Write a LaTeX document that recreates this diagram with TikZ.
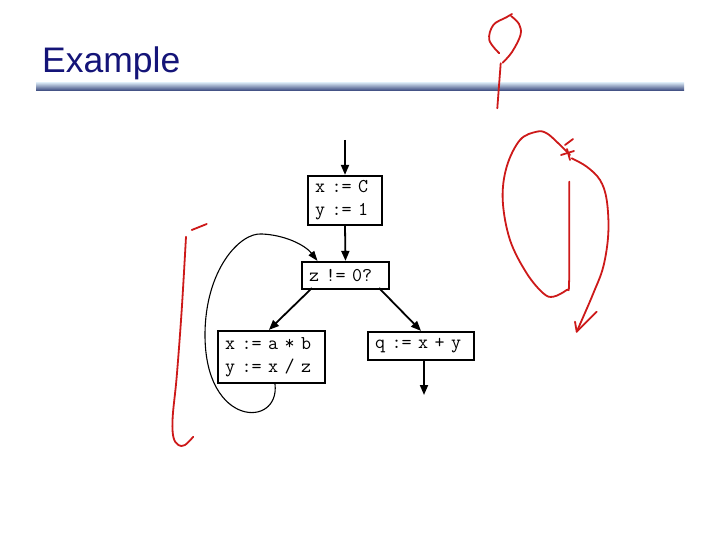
\documentclass[tikz,border=0pt]{standalone}
\usepackage{fontspec}
\setmainfont{Liberation Sans}
\usetikzlibrary{arrows.meta}
\definecolor{titleblue}{RGB}{20,20,120}
\definecolor{inkred}{RGB}{205,25,25}
\definecolor{barlight}{RGB}{205,220,235}
\definecolor{bardark}{RGB}{50,65,120}
\begin{document}
\begin{tikzpicture}[x=1pt,y=-1pt,
  codebox/.style={draw=black, line width=2.2pt, inner xsep=7pt, inner ysep=0pt,
    font=\fontsize{19.5}{23}\selectfont\ttfamily, align=left},
  flow/.style={line width=1.8pt, -{Triangle[length=10pt,width=8pt]}},
  loopflow/.style={line width=1.1pt, -{Triangle[length=10pt,width=7pt]}},
  ink/.style={draw=inkred, line width=1.8pt, line cap=round, line join=round}]
\useasboundingbox (0,0) rectangle (720,540);
\fill[white] (0,0) rectangle (720,540);
% title and bar
\node[anchor=base west, inner sep=0pt, text=titleblue, font=\fontsize{35.5}{40}\selectfont] (title) at (42,73) {Example};
\shade[top color=barlight, bottom color=bardark] (36,83) rectangle (684,91);
% boxes
\node[codebox, minimum width=74pt, minimum height=49pt, text width=60pt] (b1) at (345,200.5) {x := C\\y := 1};
\node[codebox, minimum width=87pt, minimum height=27pt, text width=73pt] (b2) at (345.5,275.5) {z != 0?};
\node[codebox, minimum width=107pt, minimum height=52pt, text width=93pt] (b3) at (271.5,357) {x := a * b\\y := x / z};
\node[codebox, minimum width=106pt, minimum height=28pt, text width=92pt] (b4) at (421,346) {q := x + y};
\coordinate (entry) at (345,140);
\coordinate (exit) at (424,395);
% connectors
\draw[flow] (entry) -- (b1.north);
\draw[flow] (b1.south) -- (b2.north);
\draw[flow] ([xshift=11pt,yshift=2pt]b2.south west) -- ([xshift=52pt]b3.north west);
\draw[flow] ([xshift=-11pt,yshift=2pt]b2.south east) -- (b4.north);
\draw[flow] ([xshift=3pt]b4.south) -- (exit);
\draw[loopflow] ([xshift=3.5pt]b3.south) .. controls (280,428) and (205,428) .. (205,335)
  .. controls (205,270) and (240,232) .. (262,234)
  .. controls (285,235) and (305,245) .. ([xshift=-28pt]b2.north);
% red handwriting
\draw[ink] plot[smooth, tension=0.6] coordinates {(499.3,53.3) (489.3,40) (493.3,25) (506,17.5) (512,14)};
\draw[ink] plot[smooth, tension=0.6] coordinates {(511,16) (519,24) (520.5,35) (512,52) (502.7,62.7)};
\draw[ink] (500.7,63.3) -- (497.3,108.3);
\draw[ink] plot[smooth, tension=0.6] coordinates {(569.3,181.7) (569.3,235) (569,285) (566.7,290) (553.3,296.7) (543.3,293.3) (526.7,273.3) (510,240) (502.7,200) (506.7,166.7) (520,140) (536.7,131.7) (546.7,133.3) (558,143) (570,155)};
\draw[ink] (565,145) -- (573,139);
\draw[ink] (561,155) -- (574,151);
\draw[ink] (567,149) -- (570,160);
\draw[ink] plot[smooth, tension=0.6] coordinates {(571.7,158.3) (586.7,166.7) (600,180) (606.7,200) (608.3,233.3) (603.3,266.7) (593.3,293.3) (583.3,316.7) (576.7,331.7)};
\draw[ink] (575,321.7) -- (576.7,331.7) -- (596.7,311.7);
\draw[ink] (191.7,230) -- (206.7,224);
\draw[ink] plot[smooth, tension=0.6] coordinates {(186,236.7) (181.7,310) (176.7,376.7) (172.7,416.7) (173.3,436.7) (178.3,445) (185,445) (193.3,436.7)};
\end{tikzpicture}
\end{document}
